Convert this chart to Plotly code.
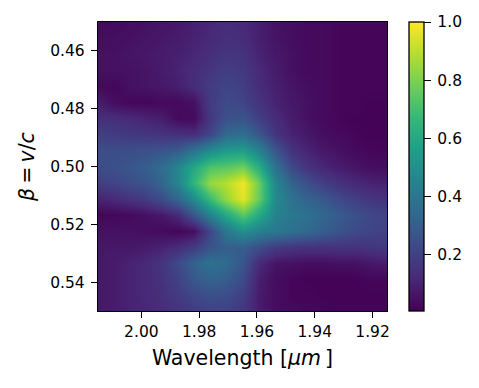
import plotly.graph_objects as go

wavelength = [2.015, 2.0094, 2.0039, 1.9983, 1.9928, 1.9872, 1.9817, 1.9761, 1.9706, 1.965,
              1.9594, 1.9539, 1.9483, 1.9428, 1.9372, 1.9317, 1.9261, 1.9206, 1.915]
beta = [0.45, 0.4556, 0.4611, 0.4667, 0.4722, 0.4778, 0.4833, 0.4889, 0.4944, 0.5,
        0.5056, 0.5111, 0.5167, 0.5222, 0.5278, 0.5333, 0.5389, 0.5444, 0.55]
row00 = [.03, .03, .04, .05, .06, .07, .09, .11, .13, .12, .09, .05, .04, .03, .03, .02, .02, .02, .02]
row01 = [.04, .04, .05, .06, .07, .08, .10, .12, .14, .13, .09, .06, .04, .03, .03, .02, .02, .02, .02]
row02 = [.05, .05, .06, .07, .08, .09, .11, .14, .16, .15, .10, .07, .05, .03, .03, .02, .02, .02, .02]
row03 = [.05, .05, .05, .06, .08, .10, .13, .16, .19, .17, .12, .08, .05, .03, .03, .02, .02, .02, .02]
row04 = [.03, .02, .05, .06, .07, .09, .13, .18, .21, .19, .13, .09, .06, .04, .03, .02, .02, .02, .02]
row05 = [.08, .04, .02, .02, .03, .03, .05, .18, .23, .21, .15, .10, .07, .05, .03, .02, .02, .01, .01]
row06 = [.14, .13, .12, .10, .08, .03, .03, .17, .25, .26, .19, .13, .08, .05, .03, .02, .01, .01, .01]
row07 = [.19, .18, .17, .16, .15, .14, .13, .21, .34, .36, .27, .16, .10, .07, .04, .03, .02, .01, .01]
row08 = [.24, .24, .24, .25, .26, .29, .38, .48, .54, .55, .44, .27, .15, .10, .07, .05, .03, .02, .02]
row09 = [.24, .25, .27, .30, .36, .46, .60, .72, .74, .78, .62, .38, .23, .15, .11, .08, .06, .04, .04]
row10 = [.19, .21, .24, .27, .33, .46, .66, .84, .89, .98, .77, .47, .32, .25, .19, .15, .12, .10, .09]
row11 = [.10, .12, .15, .18, .24, .33, .48, .68, .84, .96, .76, .48, .38, .32, .28, .23, .19, .16, .15]
row12 = [.02, .02, .03, .05, .07, .12, .27, .44, .60, .74, .60, .45, .40, .37, .33, .29, .25, .22, .21]
row13 = [.05, .05, .05, .04, .03, .02, .04, .22, .40, .50, .44, .40, .37, .34, .30, .26, .23, .21, .20]
row14 = [.07, .07, .07, .08, .10, .13, .18, .26, .30, .30, .24, .18, .16, .15, .15, .15, .15, .16, .17]
row15 = [.07, .08, .10, .12, .16, .23, .32, .38, .35, .27, .12, .06, .05, .04, .04, .05, .05, .07, .08]
row16 = [.07, .08, .10, .12, .15, .20, .28, .32, .30, .23, .09, .04, .02, .01, .01, .01, .01, .02, .02]
row17 = [.07, .08, .10, .12, .14, .18, .22, .25, .24, .19, .08, .04, .02, .02, .01, .01, .01, .01, .01]
row18 = [.07, .08, .10, .11, .13, .15, .18, .20, .20, .16, .08, .04, .03, .02, .02, .01, .01, .01, .01]
z = [row00, row01, row02, row03, row04, row05, row06, row07, row08, row09,
     row10, row11, row12, row13, row14, row15, row16, row17, row18]
x_ticks = [2.00, 1.98, 1.96, 1.94, 1.92]
y_ticks = [0.46, 0.48, 0.50, 0.52, 0.54]
c_ticks = [0.2, 0.4, 0.6, 0.8, 1.0]

FONT = "DejaVu Sans"
fig = go.Figure(go.Heatmap(
    x=wavelength, y=beta, z=z, zsmooth="best", colorscale="Viridis", zmin=0.005, zmax=1,
    colorbar=dict(
        x=1.0744, xanchor="left", xref="paper", thickness=15, thicknessmode="pixels",
        len=1, lenmode="fraction", y=0.5, yanchor="middle", xpad=0, ypad=0,
        outlinecolor="black", outlinewidth=1.3, tickvals=c_ticks,
        ticktext=["\u20090.2", "\u20090.4", "\u20090.6", "\u20090.8", "\u20091.0"],
        ticks="outside", ticklen=7, tickwidth=1.1, tickcolor="black",
        tickfont=dict(family=FONT, size=15.5, color="black"),
    ),
))
axis = dict(showgrid=False, zeroline=False, showline=True, linecolor="black", linewidth=1.3, mirror=True,
            ticks="outside", ticklen=6, tickwidth=1.1, tickcolor="black",
            tickfont=dict(family=FONT, size=15.5, color="black"))
fig.update_layout(
    width=471, height=380, margin=dict(l=90, r=92, t=14, b=77), paper_bgcolor="white", plot_bgcolor="white",
    xaxis=dict(axis, range=[2.015, 1.915], tickvals=x_ticks, ticktext=[f"{v:.2f}" for v in x_ticks],
               title=dict(text="Wavelength [<i>μm</i>\u2009]", font=dict(family=FONT, size=20.5, color="black"), standoff=10)),
    yaxis=dict(axis, range=[0.55, 0.45], tickvals=y_ticks, ticktext=[f"{v:.2f}\u2009" for v in y_ticks],
               title=dict(text="<i>β</i>\u2009=\u2009<i>v</i>/<i>c</i>", font=dict(family=FONT, size=20.5, color="black"), standoff=9)),
)
fig.write_html("out.html")
